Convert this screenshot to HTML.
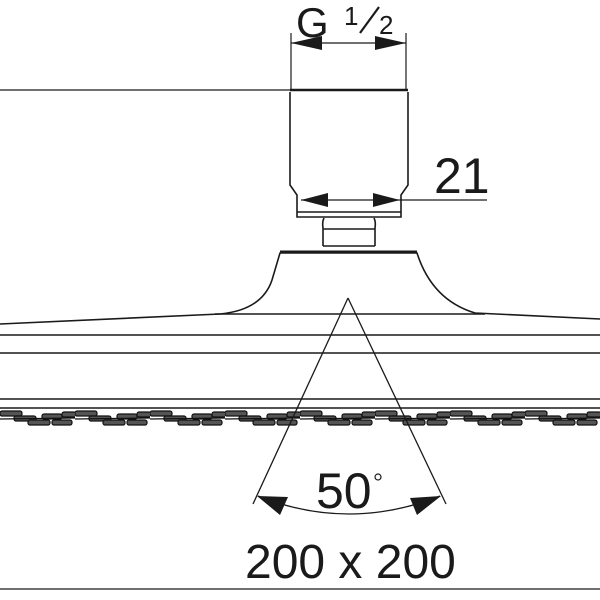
<!DOCTYPE html>
<html><head><style>body{margin:0;background:#fff}svg{display:block}</style></head><body>
<svg width="600" height="600" viewBox="0 0 600 600" xmlns="http://www.w3.org/2000/svg">
<defs>
<pattern id="nz" x="0" y="409" width="75" height="20" patternUnits="userSpaceOnUse">
<g fill="#555" stroke="#111" stroke-width="1.2">
<rect x="0" y="2" width="22" height="5" rx="2"/>
<rect x="14" y="7" width="22" height="5" rx="2"/>
<rect x="28" y="11" width="22" height="5" rx="2"/>
<rect x="42" y="5" width="20" height="5" rx="2"/>
<rect x="52" y="11" width="20" height="5" rx="2"/>
<rect x="62" y="3" width="14" height="5" rx="2"/>
</g>
<path d="M0 10 L75 9" stroke="#111" stroke-width="1.2"/>
</pattern>
</defs>
<g fill="none" stroke="#1a1a1a" stroke-width="1.6">
<line x1="291" y1="33" x2="291" y2="90" stroke-width="1.2"/>
<line x1="406" y1="33" x2="406" y2="90" stroke-width="1.2"/>
<line x1="291" y1="43" x2="406" y2="43" stroke-width="1.2"/>
<line x1="0" y1="90" x2="290" y2="90" stroke-width="1.2"/>
<line x1="290" y1="90" x2="408" y2="90" stroke-width="2.5"/>
<path d="M290 92 L290 185 L297 195 L297 217 L401 217 L401 195 L408 185 L408 92"/>
<line x1="297" y1="212" x2="401" y2="212"/>
<line x1="301" y1="200" x2="487" y2="200" stroke-width="1.2"/>
<path d="M324 218 Q322 222 323 228 L323 246 M374 218 Q376 222 375 228 L375 246"/>
<line x1="323" y1="229" x2="375" y2="229"/>
<line x1="323" y1="246" x2="375" y2="246"/>
<path d="M0 324 L220 314 Q262 310 272 280 L280 253 L417 253 Q432 300 475 313 L600 319"/>
<line x1="280" y1="252" x2="417" y2="252" stroke-width="3"/>
<line x1="215" y1="314" x2="485" y2="314"/>
<line x1="0" y1="335" x2="600" y2="335"/>
<line x1="0" y1="353" x2="600" y2="353"/>
<line x1="0" y1="399" x2="600" y2="399"/>
<line x1="0" y1="408" x2="600" y2="408"/>
<line x1="0" y1="589" x2="600" y2="589" stroke-width="1.3"/>
</g>
<rect x="0" y="409" width="600" height="20" fill="url(#nz)"/>
<g fill="none" stroke="#1a1a1a" stroke-width="1.3">
<line x1="348" y1="298" x2="253" y2="504"/>
<line x1="348" y1="298" x2="446" y2="504"/>
<path d="M258 496 Q349 532 440 496"/>
</g>
<g fill="#1a1a1a">
<polygon points="291,43 322,36 322,50"/>
<polygon points="406,43 375,36 375,50"/>
<polygon points="301,200 328,193 328,207"/>
<polygon points="400,200 373,193 373,207"/>
<polygon points="257,496 288,497 280,515"/>
<polygon points="441,496 417,515 410,498"/>
</g>
<g font-family="Liberation Sans, sans-serif" fill="#1a1a1a">
<text x="296" y="37" font-size="42">G</text>
<text x="344" y="25" font-size="26">1</text>
<line x1="360" y1="33" x2="379" y2="7" stroke="#1a1a1a" stroke-width="2.2"/>
<text x="379" y="34" font-size="26">2</text>
<text x="434" y="193" font-size="50">21</text>
<text x="316" y="508" font-size="50">50</text>
<circle cx="378" cy="477" r="3" fill="none" stroke="#1a1a1a" stroke-width="1.2"/>
<text x="245" y="578" font-size="48">200 x 200</text>
</g>
</svg>
</body></html>
